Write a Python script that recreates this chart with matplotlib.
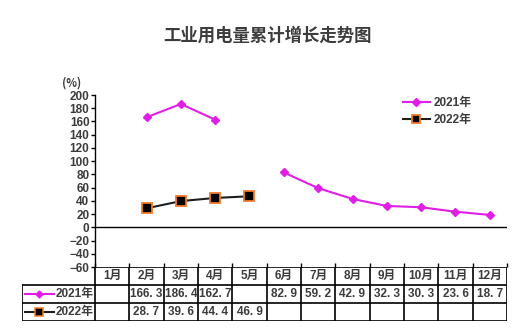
import numpy as np
import matplotlib.pyplot as plt

plt.rcParams['font.family'] = ['Noto Sans CJK SC', 'DejaVu Sans']

months = ["1月", "2月", "3月", "4月", "5月", "6月",
          "7月", "8月", "9月", "10月", "11月", "12月"]
growth_2021 = [np.nan, 166.3, 186.4, 162.7, np.nan, 82.9,
               59.2, 42.9, 32.3, 30.3, 23.6, 18.7]
growth_2022 = [np.nan, 28.7, 39.6, 44.4, 46.9, np.nan,
               np.nan, np.nan, np.nan, np.nan, np.nan, np.nan]
series_names = ["2021年", "2022年"]
y_ticks = list(range(-60, 201, 20))

W, H = 521, 330
txt = '#3c3c3c'
magenta = '#e01ee6'
dark = '#1e1e1e'
orange = '#f07a28'
mixed = ['Liberation Sans', 'Noto Sans CJK SC']

fig = plt.figure(figsize=(W / 100, H / 100), dpi=100)
fig.patch.set_facecolor('white')


def box(x0, y0, x1, y1):
    return [x0 / W, 1 - y1 / H, (x1 - x0) / W, (y1 - y0) / H]


# main chart
ax = fig.add_axes(box(95, 95, 507, 267))
x = np.arange(len(months))
ax.plot(x, growth_2021, color=magenta, lw=1.5, marker='D', ms=4.5,
        mfc=magenta, mec=magenta, label=series_names[0])
ax.plot(x, growth_2022, color=dark, lw=1.5, marker='s', ms=7,
        mfc='black', mec=orange, mew=1.3, label=series_names[1])
ax.axhline(0, color='black', lw=1)
ax.set_xlim(-0.5, 11.5)
ax.set_ylim(-60, 200)
ax.set_yticks(y_ticks)
ax.set_yticklabels([str(v).replace('-', '−') for v in y_ticks],
                   fontsize=8.5, fontweight='bold', color=txt,
                   family='Liberation Sans')
ax.tick_params(axis='y', length=3, width=1, pad=1, direction='out')
ax.set_xticks(np.arange(-0.5, 12, 1))
ax.set_xticklabels([])
ax.tick_params(axis='x', length=3, width=1, direction='in')
for s in ['top', 'right', 'bottom']:
    ax.spines[s].set_visible(False)
ax.spines['left'].set_linewidth(1)
ax.patch.set_alpha(0)

leg = ax.legend(loc='upper left', bbox_to_anchor=(0.735, 1.015),
                frameon=False, handlelength=2.3,
                handletextpad=0.3, labelspacing=0.45, markerscale=0.8,
                borderaxespad=0,
                prop={'family': mixed, 'size': 8.5, 'weight': 'bold'})
for t in leg.get_texts():
    t.set_color(txt)

fig.text(268 / W, 1 - 36 / H, "工业用电量累计增长走势图", ha='center',
         va='center', fontsize=12.5, fontweight='bold', color=txt)
fig.text(72 / W, 1 - 83 / H, "(%)", ha='center', va='center',
         fontsize=8, fontweight='bold', color=txt)

# data table under the chart
lw_units = (95 - 22) / ((507 - 95) / 12)
tb = fig.add_axes(box(22, 267, 507, 321))
tb.set_xlim(-0.5 - lw_units, 11.5)
tb.set_ylim(3, 0)
tb.axis('off')
tb.plot([-0.5, 11.5], [0, 0], color='black', lw=1.2)
for r in (1, 2, 3):
    tb.plot([-0.5 - lw_units, 11.5], [r, r], color='black', lw=1.2)
for k in range(13):
    tb.plot([k - 0.5, k - 0.5], [0, 3], color='black', lw=1.2)
tb.plot([-0.5 - lw_units] * 2, [1, 3], color='black', lw=1.2)

for i, m in enumerate(months):
    tb.text(i, 0.5, m, ha='center', va='center', fontsize=8.5,
            fontweight='bold', color=txt, family=mixed)


def fmt(v):
    return f"{v:.1f}".replace('.', '. ')


for r, (vals, name) in enumerate(zip([growth_2021, growth_2022],
                                     series_names), start=1):
    for i, v in enumerate(vals):
        if not np.isnan(v):
            tb.text(i, r + 0.5, fmt(v), ha='center', va='center',
                    fontsize=8.5, fontweight='bold', color=txt,
                    family='Liberation Sans')
    tb.text(-0.55, r + 0.5, name, ha='right', va='center', fontsize=8.5,
            fontweight='bold', color=txt, family=mixed)

# legend keys inside the table
x0 = -0.5 - lw_units + 0.08
x1 = x0 + 0.85
tb.plot([x0, x1], [1.5, 1.5], color=magenta, lw=1.5)
tb.plot([(x0 + x1) / 2], [1.5], marker='D', ms=3.5, color=magenta)
tb.plot([x0, x1], [2.5, 2.5], color=dark, lw=1.5)
tb.plot([(x0 + x1) / 2], [2.5], marker='s', ms=5.5, mfc='black',
        mec=orange, mew=1.1)

fig.savefig('out.png', dpi=100)
